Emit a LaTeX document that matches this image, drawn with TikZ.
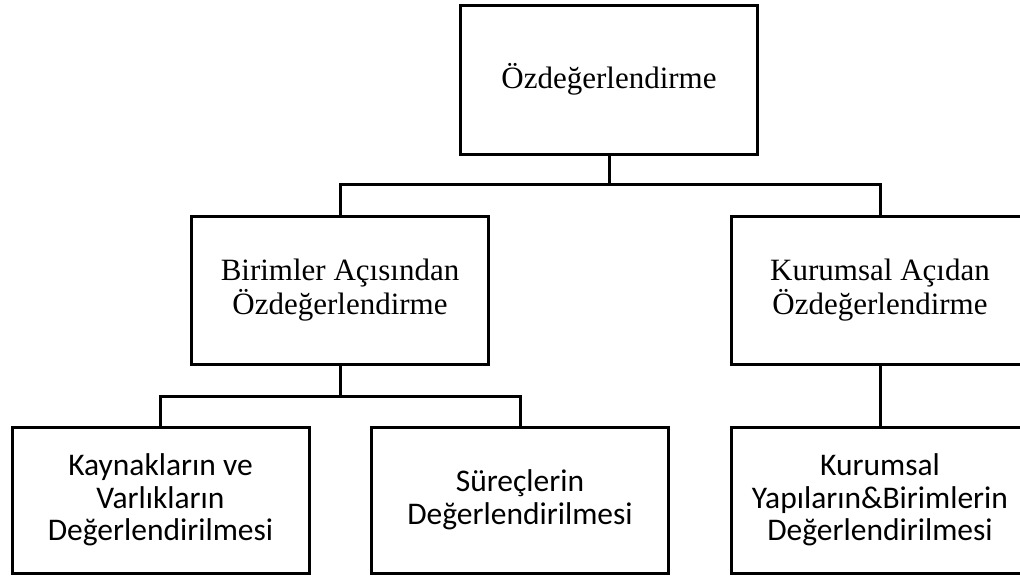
\documentclass[tikz,border=0pt]{standalone}
\usepackage{fontspec}
\setmainfont{Liberation Serif}
\newfontfamily\calibrifont{Carlito}
\begin{document}
\begin{tikzpicture}[x=1pt,y=-1pt,
  box/.style={draw=black,line width=3pt,minimum width=297pt,align=center,inner sep=0pt},
  serifbox/.style={box,minimum height=148pt,font=\fontsize{31}{34}\selectfont},
  sansbox/.style={box,minimum height=146pt,font=\calibrifont\fontsize{31.5}{32.5}\selectfont},
  conn/.style={draw=black,line width=3pt}]
\useasboundingbox (0,0) rectangle (1020,579);
\clip (0,0) rectangle (1020,579);
\node[serifbox,minimum height=149pt] (top) at (609,79.5) {Özdeğerlendirme};
\node[serifbox] (midL) at (340,290) {Birimler Açısından\\Özdeğerlendirme};
\node[serifbox] (midR) at (880,290) {Kurumsal Açıdan\\Özdeğerlendirme};
\node[sansbox] (botL) at (160.5,500) {Kaynakların ve\\Varlıkların\\Değerlendirilmesi};
\node[sansbox] (botM) at (520,500) {Süreçlerin\\Değerlendirilmesi};
\node[sansbox] (botR) at (880,500) {Kurumsal\\Yapıların\&Birimlerin\\Değerlendirilmesi};
\coordinate (j1) at (609,184);
\coordinate (j2) at (340,396);
\draw[conn] (top.south) -- (j1);
\draw[conn] (j1) -| (midL.north);
\draw[conn] (j1) -| (midR.north);
\draw[conn] (midL.south) -- (j2);
\draw[conn] (j2) -| (botL.north);
\draw[conn] (j2) -| (botM.north);
\draw[conn] (midR.south) -- (botR.north);
\end{tikzpicture}
\end{document}
